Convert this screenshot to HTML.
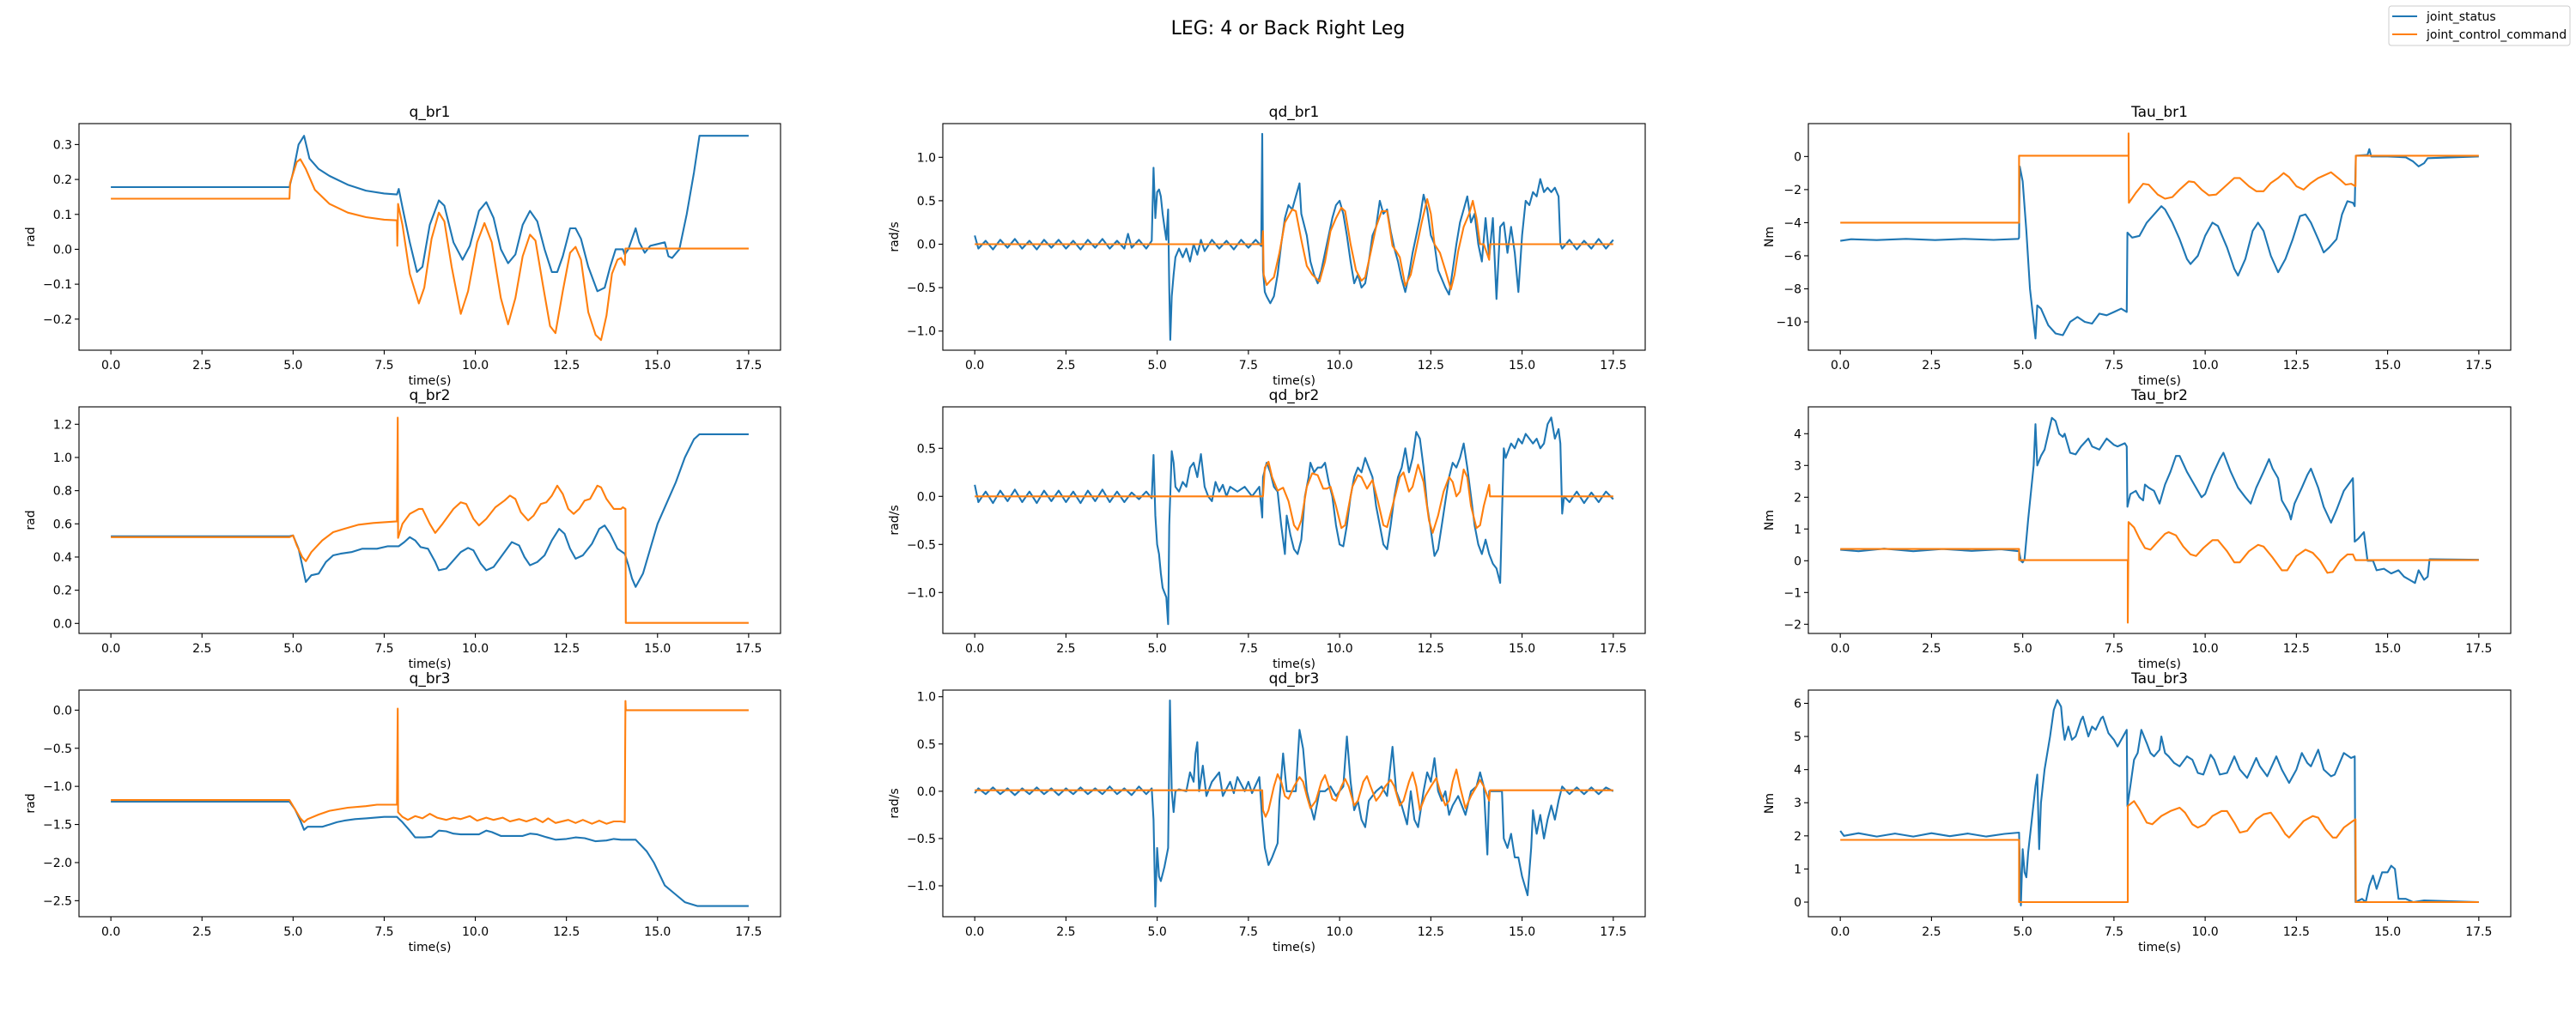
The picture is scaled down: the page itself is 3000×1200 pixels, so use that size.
<!DOCTYPE html>
<html><head><meta charset="utf-8">
<style>
html,body{margin:0;padding:0;background:#fff;}
svg{display:block;font-family:"DejaVu Sans","Liberation Sans",sans-serif;}
</style></head>
<body>
<svg id="fig" width="3000" height="1200" viewBox="0 0 3000 1200" xmlns="http://www.w3.org/2000/svg">
<rect x="0" y="0" width="3000" height="1200" fill="#fff"/>
<text x="1500" y="40" font-size="22" text-anchor="middle" fill="#000">LEG: 4 or Back Right Leg</text>
<g>
<rect x="2782" y="7" width="211" height="46" rx="3" fill="#fff" stroke="#ccc" stroke-width="1"/>
<line x1="2786" y1="19" x2="2815" y2="19" stroke="#1f77b4" stroke-width="2"/>
<text x="2826" y="24" font-size="14" fill="#000">joint_status</text>
<line x1="2786" y1="40" x2="2815" y2="40" stroke="#ff7f0e" stroke-width="2"/>
<text x="2826" y="45" font-size="14" fill="#000">joint_control_command</text>
</g>
</svg>
<script>
// x-axis ticks shared
const xTicks = [0,2.5,5,7.5,10,12.5,15,17.5];
const xTickLabels = ["0.0","2.5","5.0","7.5","10.0","12.5","15.0","17.5"];

// ---- q_br1 ----
const q_br1_status = [[0,0.178],[4.9,0.178],[5.0,0.22],[5.15,0.30],[5.3,0.325],[5.45,0.26],[5.7,0.23],[6.0,0.21],[6.5,0.185],[7.0,0.168],[7.5,0.16],[7.85,0.157],[7.9,0.173],[8.0,0.12],[8.2,0.02],[8.4,-0.065],[8.55,-0.05],[8.75,0.07],[9.0,0.14],[9.15,0.125],[9.4,0.02],[9.65,-0.03],[9.85,0.01],[10.1,0.11],[10.3,0.135],[10.5,0.09],[10.7,0.0],[10.9,-0.04],[11.1,-0.015],[11.3,0.07],[11.5,0.11],[11.7,0.08],[11.9,0.0],[12.1,-0.065],[12.25,-0.065],[12.4,-0.02],[12.6,0.06],[12.75,0.06],[12.9,0.03],[13.1,-0.05],[13.35,-0.12],[13.55,-0.11],[13.7,-0.05],[13.85,0.0],[14.05,0.0],[14.1,-0.015],[14.2,0.0],[14.4,0.06],[14.5,0.02],[14.65,-0.01],[14.8,0.01],[15.2,0.02],[15.3,-0.02],[15.4,-0.025],[15.6,0.0],[15.8,0.1],[16.0,0.22],[16.15,0.325],[17.5,0.325]];
const q_br1_command = [[0,0.145],[4.9,0.145],[4.92,0.19],[5.1,0.25],[5.2,0.258],[5.35,0.23],[5.6,0.17],[6.0,0.13],[6.5,0.105],[7.0,0.092],[7.5,0.085],[7.85,0.083],[7.86,0.01],[7.88,0.13],[8.0,0.07],[8.2,-0.07],[8.45,-0.155],[8.6,-0.11],[8.8,0.03],[9.0,0.105],[9.15,0.08],[9.35,-0.05],[9.6,-0.185],[9.8,-0.12],[10.05,0.02],[10.25,0.075],[10.45,0.02],[10.7,-0.14],[10.9,-0.215],[11.1,-0.14],[11.3,-0.02],[11.5,0.042],[11.65,0.025],[11.85,-0.1],[12.05,-0.22],[12.2,-0.24],[12.4,-0.12],[12.6,-0.01],[12.75,0.007],[12.9,-0.03],[13.1,-0.18],[13.3,-0.245],[13.45,-0.26],[13.6,-0.19],[13.75,-0.07],[13.9,-0.03],[14.0,-0.025],[14.1,-0.045],[14.12,0.002],[17.5,0.002]];
const q_br1_yTicks = [-0.2,-0.1,0.0,0.1,0.2,0.3];
const q_br1_yTickLabels = ["\u22120.2","\u22120.1","0.0","0.1","0.2","0.3"];

// ---- qd_br1 ----
const qd_br1_status = [[0,0.1],[0.1,-0.05],[0.3,0.04],[0.5,-0.06],[0.7,0.05],[0.9,-0.04],[1.1,0.06],[1.3,-0.05],[1.5,0.04],[1.7,-0.06],[1.9,0.05],[2.1,-0.04],[2.3,0.05],[2.5,-0.05],[2.7,0.04],[2.9,-0.06],[3.1,0.05],[3.3,-0.04],[3.5,0.06],[3.7,-0.05],[3.9,0.04],[4.1,-0.05],[4.2,0.12],[4.3,-0.04],[4.5,0.05],[4.7,-0.05],[4.85,0.04],[4.9,0.88],[4.95,0.3],[5.0,0.6],[5.05,0.63],[5.1,0.55],[5.15,0.35],[5.2,0.2],[5.25,0.05],[5.3,0.4],[5.33,-0.5],[5.36,-1.1],[5.4,-0.6],[5.45,-0.35],[5.5,-0.15],[5.6,-0.05],[5.7,-0.15],[5.8,-0.05],[5.9,-0.2],[6.0,0.0],[6.1,-0.12],[6.2,0.05],[6.3,-0.08],[6.5,0.05],[6.7,-0.05],[6.9,0.04],[7.1,-0.06],[7.3,0.05],[7.5,-0.04],[7.7,0.05],[7.85,-0.02],[7.88,1.27],[7.9,-0.3],[7.95,-0.55],[8.0,-0.6],[8.1,-0.68],[8.2,-0.6],[8.3,-0.35],[8.4,0.0],[8.5,0.3],[8.6,0.45],[8.7,0.4],[8.8,0.55],[8.9,0.7],[8.95,0.35],[9.1,0.1],[9.2,-0.2],[9.3,-0.35],[9.4,-0.45],[9.5,-0.3],[9.6,-0.1],[9.7,0.1],[9.8,0.3],[9.9,0.45],[10.0,0.5],[10.1,0.35],[10.2,0.1],[10.3,-0.2],[10.4,-0.45],[10.5,-0.35],[10.6,-0.5],[10.7,-0.45],[10.8,-0.2],[10.9,0.1],[11.0,0.2],[11.1,0.5],[11.2,0.35],[11.3,0.4],[11.4,0.15],[11.5,-0.05],[11.6,-0.2],[11.7,-0.4],[11.8,-0.55],[11.9,-0.35],[12.0,-0.1],[12.1,0.1],[12.2,0.3],[12.3,0.57],[12.4,0.4],[12.5,0.1],[12.6,0.0],[12.7,-0.3],[12.8,-0.4],[12.9,-0.5],[13.0,-0.58],[13.1,-0.3],[13.2,0.0],[13.3,0.25],[13.4,0.4],[13.5,0.55],[13.6,0.25],[13.7,0.35],[13.8,0.0],[13.9,-0.2],[14.0,0.3],[14.1,-0.15],[14.2,0.3],[14.3,-0.63],[14.4,0.2],[14.5,0.25],[14.6,-0.1],[14.7,0.2],[14.8,-0.1],[14.9,-0.55],[15.0,0.1],[15.1,0.5],[15.2,0.45],[15.3,0.6],[15.4,0.55],[15.5,0.75],[15.6,0.6],[15.7,0.65],[15.8,0.6],[15.9,0.65],[16.0,0.55],[16.05,0.0],[16.1,-0.05],[16.3,0.05],[16.5,-0.06],[16.7,0.04],[16.9,-0.05],[17.1,0.06],[17.3,-0.05],[17.5,0.05]];
const qd_br1_command = [[0,0],[7.88,0],[7.9,0.15],[7.92,-0.35],[8.0,-0.47],[8.1,-0.42],[8.2,-0.38],[8.35,-0.1],[8.5,0.25],[8.7,0.4],[8.8,0.38],[8.95,0.05],[9.1,-0.25],[9.25,-0.35],[9.45,-0.43],[9.6,-0.2],[9.75,0.15],[9.9,0.3],[10.05,0.42],[10.15,0.38],[10.3,0.0],[10.45,-0.3],[10.6,-0.42],[10.7,-0.38],[10.85,-0.1],[11.0,0.2],[11.15,0.38],[11.3,0.38],[11.45,-0.02],[11.55,-0.08],[11.65,-0.15],[11.8,-0.48],[11.95,-0.35],[12.1,-0.05],[12.25,0.25],[12.4,0.52],[12.5,0.35],[12.6,0.0],[12.75,-0.1],[12.9,-0.3],[13.05,-0.52],[13.15,-0.35],[13.25,-0.08],[13.4,0.2],[13.55,0.35],[13.65,0.5],[13.75,0.3],[13.85,0.0],[13.95,0.0],[14.1,-0.18],[14.12,0],[17.5,0]];
const qd_br1_yTicks = [-1.0,-0.5,0.0,0.5,1.0];
const qd_br1_yTickLabels = ["\u22121.0","\u22120.5","0.0","0.5","1.0"];

// ---- Tau_br1 ----
const tau_br1_status = [[0,-5.1],[0.3,-5.0],[1.0,-5.05],[1.8,-4.98],[2.6,-5.05],[3.4,-4.98],[4.2,-5.04],[4.88,-4.98],[4.9,-4.9],[4.92,-0.6],[5.0,-1.5],[5.1,-4.5],[5.2,-8.0],[5.3,-10.0],[5.35,-11.0],[5.4,-9.0],[5.5,-9.2],[5.7,-10.2],[5.9,-10.7],[6.1,-10.8],[6.3,-10.0],[6.5,-9.7],[6.7,-10.0],[6.9,-10.1],[7.1,-9.5],[7.3,-9.6],[7.5,-9.4],[7.7,-9.2],[7.85,-9.4],[7.87,-4.6],[8.0,-4.9],[8.2,-4.8],[8.4,-4.0],[8.6,-3.5],[8.8,-3.0],[8.9,-3.2],[9.1,-4.0],[9.3,-5.0],[9.5,-6.2],[9.6,-6.5],[9.8,-6.0],[10.0,-4.8],[10.2,-4.0],[10.35,-4.2],[10.6,-5.5],[10.8,-6.8],[10.9,-7.2],[11.1,-6.2],[11.3,-4.5],[11.45,-4.0],[11.6,-4.5],[11.8,-6.0],[12.0,-7.0],[12.2,-6.2],[12.4,-5.0],[12.6,-3.6],[12.75,-3.5],[12.9,-4.0],[13.1,-5.0],[13.25,-5.8],[13.4,-5.5],[13.6,-5.0],[13.75,-3.5],[13.9,-2.7],[14.05,-2.8],[14.1,-3.0],[14.13,0.05],[14.45,0.1],[14.5,0.45],[14.55,0.0],[15.0,0.0],[15.5,-0.05],[15.7,-0.3],[15.85,-0.6],[16.0,-0.4],[16.1,-0.1],[17.5,0.0]];
const tau_br1_command = [[0,-4.0],[4.9,-4.0],[4.9,0.05],[7.9,0.05],[7.9,1.4],[7.91,-2.8],[8.1,-2.2],[8.3,-1.65],[8.45,-1.7],[8.7,-2.3],[8.9,-2.55],[9.1,-2.45],[9.3,-2.0],[9.55,-1.5],[9.7,-1.55],[9.9,-2.0],[10.1,-2.35],[10.3,-2.3],[10.5,-1.9],[10.8,-1.3],[10.95,-1.3],[11.2,-1.8],[11.4,-2.1],[11.6,-2.1],[11.8,-1.6],[12.0,-1.3],[12.15,-1.0],[12.3,-1.25],[12.5,-1.8],[12.7,-2.0],[12.9,-1.6],[13.1,-1.3],[13.2,-1.2],[13.45,-0.95],[13.7,-1.4],[13.85,-1.7],[14.0,-1.65],[14.12,-1.8],[14.13,0.05],[17.5,0.05]];
const tau_br1_yTicks = [-10,-8,-6,-4,-2,0];
const tau_br1_yTickLabels = ["\u221210","\u22128","\u22126","\u22124","\u22122","0"];

// ---- q_br2 ----
const q_br2_status = [[0,0.525],[4.9,0.525],[5.0,0.53],[5.15,0.45],[5.3,0.3],[5.35,0.25],[5.5,0.29],[5.7,0.3],[5.9,0.37],[6.1,0.41],[6.3,0.42],[6.6,0.43],[6.9,0.45],[7.3,0.45],[7.6,0.465],[7.9,0.465],[8.05,0.49],[8.2,0.52],[8.35,0.5],[8.5,0.46],[8.7,0.45],[8.9,0.37],[9.0,0.32],[9.2,0.33],[9.4,0.38],[9.6,0.43],[9.8,0.455],[9.95,0.44],[10.15,0.36],[10.3,0.32],[10.5,0.34],[10.8,0.43],[11.0,0.49],[11.2,0.47],[11.35,0.4],[11.5,0.35],[11.7,0.37],[11.9,0.41],[12.1,0.5],[12.3,0.57],[12.45,0.54],[12.6,0.45],[12.75,0.39],[12.95,0.41],[13.2,0.48],[13.4,0.57],[13.55,0.59],[13.7,0.54],[13.9,0.45],[14.1,0.42],[14.2,0.35],[14.3,0.27],[14.4,0.22],[14.6,0.3],[14.8,0.45],[15.0,0.6],[15.3,0.75],[15.5,0.85],[15.75,1.0],[16.0,1.11],[16.15,1.14],[17.5,1.14]];
const q_br2_command = [[0,0.52],[4.9,0.52],[5.0,0.53],[5.1,0.47],[5.25,0.4],[5.35,0.375],[5.5,0.43],[5.8,0.5],[6.1,0.55],[6.4,0.57],[6.8,0.595],[7.2,0.605],[7.5,0.61],[7.85,0.615],[7.87,1.24],[7.88,0.515],[8.0,0.6],[8.2,0.66],[8.45,0.69],[8.55,0.69],[8.75,0.6],[8.9,0.545],[9.1,0.6],[9.4,0.69],[9.6,0.73],[9.75,0.72],[9.95,0.63],[10.1,0.59],[10.3,0.63],[10.55,0.7],[10.8,0.74],[10.95,0.77],[11.1,0.75],[11.25,0.67],[11.45,0.62],[11.6,0.65],[11.8,0.72],[11.95,0.73],[12.1,0.77],[12.25,0.83],[12.4,0.78],[12.55,0.69],[12.7,0.66],[12.85,0.69],[13.0,0.74],[13.15,0.75],[13.35,0.83],[13.45,0.82],[13.6,0.75],[13.8,0.69],[14.0,0.69],[14.05,0.7],[14.12,0.69],[14.13,0.003],[17.5,0.003]];
const q_br2_yTicks = [0.0,0.2,0.4,0.6,0.8,1.0,1.2];
const q_br2_yTickLabels = ["0.0","0.2","0.4","0.6","0.8","1.0","1.2"];

// ---- qd_br2 ----
const qd_br2_status = [[0,0.12],[0.1,-0.06],[0.3,0.05],[0.5,-0.07],[0.7,0.06],[0.9,-0.05],[1.1,0.07],[1.3,-0.06],[1.5,0.05],[1.7,-0.07],[1.9,0.06],[2.1,-0.05],[2.3,0.06],[2.5,-0.06],[2.7,0.05],[2.9,-0.07],[3.1,0.06],[3.3,-0.05],[3.5,0.07],[3.7,-0.06],[3.9,0.05],[4.1,-0.06],[4.3,0.04],[4.5,-0.03],[4.7,0.05],[4.85,-0.02],[4.9,0.43],[4.95,-0.2],[5.0,-0.5],[5.05,-0.6],[5.1,-0.8],[5.15,-0.95],[5.2,-1.0],[5.25,-1.05],[5.3,-1.33],[5.33,-0.3],[5.4,0.47],[5.45,0.35],[5.5,0.1],[5.6,0.05],[5.7,0.15],[5.8,0.1],[5.9,0.3],[6.0,0.35],[6.1,0.2],[6.2,0.44],[6.3,0.1],[6.4,0.0],[6.5,-0.05],[6.6,0.15],[6.7,0.05],[6.8,0.12],[6.9,0.0],[7.0,0.1],[7.2,0.05],[7.4,0.1],[7.6,0.0],[7.8,0.1],[7.88,-0.22],[7.9,0.2],[8.0,0.35],[8.1,0.25],[8.2,0.1],[8.3,0.05],[8.4,-0.3],[8.5,-0.6],[8.55,-0.2],[8.65,-0.4],[8.75,-0.55],[8.85,-0.6],[8.95,-0.45],[9.05,0.0],[9.15,0.2],[9.2,0.35],[9.3,0.25],[9.4,0.3],[9.5,0.3],[9.6,0.35],[9.7,0.15],[9.8,0.0],[9.9,-0.3],[10.0,-0.5],[10.1,-0.52],[10.2,-0.3],[10.3,0.0],[10.4,0.2],[10.5,0.3],[10.6,0.25],[10.7,0.4],[10.8,0.3],[10.9,0.2],[11.0,-0.1],[11.1,-0.3],[11.2,-0.5],[11.3,-0.55],[11.4,-0.3],[11.5,0.0],[11.6,0.2],[11.7,0.3],[11.8,0.5],[11.9,0.25],[12.0,0.4],[12.1,0.67],[12.2,0.6],[12.3,0.3],[12.4,-0.1],[12.5,-0.35],[12.6,-0.62],[12.7,-0.55],[12.8,-0.3],[12.9,-0.05],[13.0,0.2],[13.1,0.35],[13.2,0.3],[13.3,0.4],[13.4,0.55],[13.5,0.3],[13.6,0.0],[13.7,-0.3],[13.8,-0.5],[13.9,-0.6],[14.0,-0.45],[14.1,-0.6],[14.2,-0.7],[14.3,-0.75],[14.4,-0.9],[14.5,0.5],[14.55,0.4],[14.7,0.55],[14.8,0.5],[14.9,0.6],[15.0,0.55],[15.1,0.65],[15.2,0.6],[15.3,0.55],[15.4,0.6],[15.5,0.5],[15.6,0.55],[15.7,0.75],[15.8,0.82],[15.9,0.6],[16.0,0.7],[16.05,0.55],[16.1,-0.18],[16.15,0.0],[16.3,-0.06],[16.5,0.05],[16.7,-0.07],[16.9,0.04],[17.1,-0.06],[17.3,0.05],[17.5,-0.03]];
const qd_br2_command = [[0,0],[7.9,0],[7.95,0.3],[8.05,0.36],[8.15,0.2],[8.3,0.06],[8.45,0.09],[8.6,-0.05],[8.75,-0.3],[8.85,-0.35],[8.95,-0.25],[9.1,0.1],[9.25,0.24],[9.4,0.22],[9.55,0.08],[9.65,0.08],[9.75,0.1],[9.9,-0.1],[10.05,-0.33],[10.15,-0.3],[10.35,0.1],[10.5,0.22],[10.6,0.2],[10.75,0.08],[10.9,0.17],[11.05,-0.05],[11.2,-0.3],[11.3,-0.32],[11.45,-0.1],[11.65,0.2],[11.75,0.25],[11.9,0.05],[12.0,0.1],[12.15,0.33],[12.3,0.15],[12.45,-0.25],[12.55,-0.38],[12.7,-0.2],[12.85,0.05],[13.0,0.2],[13.1,0.15],[13.2,0.0],[13.3,0.05],[13.4,0.28],[13.5,0.2],[13.6,-0.1],[13.75,-0.33],[13.85,-0.3],[13.95,-0.1],[14.1,0.12],[14.12,0],[17.5,0]];
const qd_br2_yTicks = [-1.0,-0.5,0.0,0.5];
const qd_br2_yTickLabels = ["\u22121.0","\u22120.5","0.0","0.5"];

// ---- Tau_br2 ----
const tau_br2_status = [[0,0.35],[0.5,0.3],[1.2,0.38],[2.0,0.3],[2.8,0.37],[3.6,0.31],[4.4,0.36],[4.9,0.3],[4.95,0.0],[5.0,-0.05],[5.05,0.05],[5.15,1.3],[5.3,3.0],[5.35,4.3],[5.4,3.0],[5.5,3.3],[5.6,3.5],[5.8,4.5],[5.9,4.4],[6.0,4.0],[6.1,3.9],[6.15,4.0],[6.3,3.4],[6.45,3.35],[6.6,3.6],[6.8,3.85],[6.9,3.6],[7.1,3.5],[7.3,3.85],[7.5,3.65],[7.6,3.6],[7.8,3.7],[7.85,3.6],[7.87,1.7],[7.95,2.1],[8.1,2.2],[8.2,2.0],[8.3,1.9],[8.35,2.4],[8.45,2.3],[8.6,2.2],[8.75,1.8],[8.9,2.4],[9.05,2.8],[9.2,3.3],[9.3,3.3],[9.5,2.8],[9.7,2.4],[9.9,2.0],[10.0,2.1],[10.2,2.7],[10.4,3.2],[10.5,3.4],[10.7,2.8],[10.9,2.3],[11.1,2.0],[11.25,1.8],[11.4,2.3],[11.6,2.8],[11.75,3.2],[11.85,2.9],[12.0,2.6],[12.1,1.9],[12.3,1.5],[12.35,1.3],[12.45,1.8],[12.65,2.3],[12.8,2.7],[12.9,2.9],[13.1,2.3],[13.25,1.7],[13.45,1.2],[13.6,1.6],[13.8,2.2],[14.05,2.6],[14.1,0.6],[14.2,0.7],[14.35,0.9],[14.45,0.0],[14.6,0.0],[14.7,-0.3],[14.9,-0.25],[15.1,-0.4],[15.3,-0.3],[15.45,-0.5],[15.6,-0.6],[15.75,-0.7],[15.85,-0.3],[16.0,-0.6],[16.1,-0.5],[16.15,0.05],[17.5,0.03]];
const tau_br2_command = [[0,0.37],[4.9,0.37],[4.9,0.02],[7.88,0.02],[7.88,-1.95],[7.9,1.22],[8.05,1.05],[8.2,0.7],[8.35,0.4],[8.5,0.35],[8.7,0.6],[8.9,0.85],[9.0,0.9],[9.2,0.8],[9.4,0.45],[9.6,0.2],[9.75,0.15],[9.95,0.4],[10.2,0.65],[10.35,0.65],[10.6,0.3],[10.8,-0.05],[10.95,-0.05],[11.2,0.3],[11.45,0.5],[11.6,0.45],[11.85,0.1],[12.1,-0.3],[12.25,-0.3],[12.5,0.15],[12.75,0.35],[12.95,0.25],[13.15,0.0],[13.35,-0.38],[13.5,-0.35],[13.7,0.0],[13.9,0.2],[14.05,0.2],[14.12,0.02],[17.5,0.02]];
const tau_br2_yTicks = [-2,-1,0,1,2,3,4];
const tau_br2_yTickLabels = ["\u22122","\u22121","0","1","2","3","4"];

// ---- q_br3 ----
const q_br3_status = [[0,-1.2],[4.9,-1.2],[5.05,-1.3],[5.2,-1.45],[5.3,-1.57],[5.4,-1.53],[5.8,-1.53],[6.0,-1.5],[6.2,-1.47],[6.4,-1.45],[6.7,-1.43],[7.0,-1.42],[7.5,-1.4],[7.85,-1.4],[8.0,-1.47],[8.2,-1.58],[8.35,-1.67],[8.6,-1.67],[8.8,-1.66],[9.0,-1.58],[9.2,-1.59],[9.4,-1.62],[9.6,-1.63],[10.1,-1.63],[10.3,-1.58],[10.45,-1.6],[10.7,-1.65],[11.3,-1.65],[11.5,-1.62],[11.7,-1.63],[11.9,-1.66],[12.2,-1.7],[12.5,-1.69],[12.75,-1.67],[13.0,-1.68],[13.3,-1.72],[13.6,-1.71],[13.8,-1.69],[14.0,-1.7],[14.4,-1.7],[14.7,-1.85],[14.9,-2.0],[15.05,-2.15],[15.2,-2.3],[15.45,-2.4],[15.75,-2.52],[16.1,-2.57],[17.5,-2.57]];
const q_br3_command = [[0,-1.18],[4.9,-1.18],[5.05,-1.3],[5.2,-1.42],[5.3,-1.47],[5.4,-1.43],[5.7,-1.37],[6.0,-1.32],[6.5,-1.28],[7.0,-1.26],[7.3,-1.24],[7.85,-1.24],[7.87,0.02],[7.88,-1.34],[8.0,-1.4],[8.15,-1.44],[8.35,-1.39],[8.55,-1.42],[8.75,-1.36],[8.95,-1.41],[9.2,-1.44],[9.4,-1.41],[9.6,-1.43],[9.85,-1.39],[10.05,-1.45],[10.3,-1.41],[10.5,-1.44],[10.75,-1.41],[10.95,-1.46],[11.2,-1.43],[11.4,-1.46],[11.65,-1.42],[11.85,-1.47],[12.0,-1.42],[12.2,-1.48],[12.55,-1.44],[12.75,-1.48],[12.95,-1.44],[13.2,-1.49],[13.4,-1.45],[13.6,-1.49],[13.8,-1.46],[14.0,-1.46],[14.1,-1.47],[14.12,0.12],[14.13,0.0],[17.5,0.0]];
const q_br3_yTicks = [-2.5,-2.0,-1.5,-1.0,-0.5,0.0];
const q_br3_yTickLabels = ["\u22122.5","\u22122.0","\u22121.5","\u22121.0","\u22120.5","0.0"];

// ---- qd_br3 ----
const qd_br3_status = [[0,-0.02],[0.1,0.03],[0.3,-0.03],[0.5,0.04],[0.7,-0.03],[0.9,0.03],[1.1,-0.04],[1.3,0.03],[1.5,-0.03],[1.7,0.04],[1.9,-0.03],[2.1,0.03],[2.3,-0.04],[2.5,0.03],[2.7,-0.03],[2.9,0.04],[3.1,-0.03],[3.3,0.03],[3.5,-0.03],[3.7,0.05],[3.9,-0.03],[4.1,0.03],[4.3,-0.04],[4.5,0.05],[4.7,-0.03],[4.85,0.03],[4.9,-0.3],[4.95,-1.22],[5.0,-0.6],[5.05,-0.9],[5.1,-0.95],[5.2,-0.8],[5.3,-0.6],[5.35,0.96],[5.4,0.0],[5.45,-0.22],[5.5,0.0],[5.6,0.02],[5.8,0.0],[5.9,0.2],[6.0,0.1],[6.05,0.4],[6.1,0.52],[6.15,0.0],[6.25,0.27],[6.35,-0.05],[6.5,0.1],[6.7,0.2],[6.8,-0.05],[7.0,0.1],[7.1,-0.02],[7.2,0.15],[7.4,0.0],[7.5,0.1],[7.6,-0.02],[7.8,0.15],[7.88,-0.3],[7.95,-0.6],[8.05,-0.78],[8.15,-0.7],[8.3,-0.55],[8.35,-0.1],[8.45,0.4],[8.55,0.0],[8.8,0.0],[8.9,0.65],[9.0,0.45],[9.1,0.0],[9.2,-0.15],[9.3,-0.3],[9.45,0.0],[9.6,0.0],[9.75,0.05],[9.9,-0.05],[10.0,0.0],[10.1,0.05],[10.2,0.58],[10.3,0.1],[10.4,-0.2],[10.5,-0.1],[10.6,-0.3],[10.7,-0.38],[10.8,-0.1],[11.0,0.0],[11.15,0.05],[11.3,-0.05],[11.45,0.47],[11.55,0.0],[11.7,-0.15],[11.85,-0.35],[11.95,0.0],[12.05,-0.3],[12.15,-0.38],[12.3,0.0],[12.4,0.2],[12.5,0.1],[12.6,0.35],[12.7,0.0],[12.8,-0.1],[12.9,0.0],[13.0,-0.25],[13.1,-0.15],[13.25,-0.05],[13.45,-0.25],[13.6,0.0],[13.75,0.05],[13.85,0.2],[13.95,0.05],[14.05,-0.67],[14.1,0.0],[14.45,0.0],[14.5,-0.5],[14.6,-0.6],[14.7,-0.45],[14.8,-0.7],[14.9,-0.7],[15.0,-0.9],[15.15,-1.1],[15.25,-0.6],[15.3,-0.2],[15.4,-0.45],[15.5,-0.25],[15.6,-0.5],[15.7,-0.3],[15.8,-0.15],[15.9,-0.3],[16.0,-0.1],[16.1,0.05],[16.3,-0.03],[16.5,0.04],[16.7,-0.03],[16.9,0.04],[17.1,-0.03],[17.3,0.04],[17.5,0.0]];
const qd_br3_command = [[0,0.01],[7.88,0.01],[7.9,-0.2],[7.97,-0.27],[8.05,-0.2],[8.2,0.05],[8.3,0.18],[8.4,0.1],[8.5,-0.05],[8.6,-0.08],[8.75,0.05],[8.9,0.15],[9.0,0.1],[9.1,-0.05],[9.2,-0.18],[9.35,-0.1],[9.5,0.1],[9.6,0.17],[9.7,0.05],[9.8,-0.08],[9.9,-0.1],[10.05,0.05],[10.15,0.13],[10.25,0.05],[10.4,-0.15],[10.5,-0.1],[10.65,0.1],[10.75,0.16],[10.85,0.05],[11.0,-0.1],[11.1,-0.05],[11.25,0.05],[11.4,0.12],[11.5,0.05],[11.65,-0.15],[11.75,-0.1],[11.9,0.1],[12.0,0.2],[12.1,0.05],[12.2,-0.2],[12.35,-0.05],[12.5,0.05],[12.65,0.14],[12.75,0.0],[12.9,-0.15],[13.0,-0.1],[13.1,0.1],[13.2,0.23],[13.3,0.05],[13.45,-0.18],[13.6,-0.05],[13.75,0.05],[13.85,0.12],[13.95,0.05],[14.1,-0.1],[14.12,0.01],[17.5,0.01]];
const qd_br3_yTicks = [-1.0,-0.5,0.0,0.5,1.0];
const qd_br3_yTickLabels = ["\u22121.0","\u22120.5","0.0","0.5","1.0"];

// ---- Tau_br3 ----
const tau_br3_status = [[0,2.15],[0.1,2.0],[0.5,2.08],[1.0,1.98],[1.5,2.07],[2.0,1.98],[2.5,2.08],[3.0,1.99],[3.5,2.07],[4.0,1.98],[4.5,2.06],[4.9,2.1],[4.95,-0.1],[5.0,1.6],[5.05,0.9],[5.1,0.75],[5.15,1.5],[5.25,2.5],[5.35,3.5],[5.4,3.85],[5.45,1.6],[5.5,3.0],[5.6,4.0],[5.75,5.0],[5.85,5.8],[5.95,6.1],[6.05,5.9],[6.1,5.3],[6.15,4.9],[6.25,5.3],[6.35,4.9],[6.45,5.0],[6.6,5.5],[6.65,5.6],[6.8,5.0],[6.9,5.3],[7.0,5.2],[7.15,5.55],[7.2,5.6],[7.35,5.1],[7.5,4.9],[7.6,4.7],[7.8,5.1],[7.85,5.2],[7.87,2.9],[7.95,3.5],[8.05,4.3],[8.15,4.5],[8.25,5.2],[8.4,4.8],[8.5,4.5],[8.6,4.4],[8.75,4.6],[8.8,5.0],[8.9,4.5],[9.0,4.4],[9.15,4.2],[9.3,4.1],[9.5,4.4],[9.65,4.3],[9.8,3.9],[9.95,3.85],[10.15,4.45],[10.25,4.3],[10.4,3.85],[10.6,3.9],[10.8,4.4],[10.95,4.0],[11.15,3.75],[11.4,4.35],[11.5,4.1],[11.7,3.8],[11.95,4.4],[12.1,4.0],[12.3,3.6],[12.5,4.0],[12.65,4.5],[12.8,4.2],[12.9,4.1],[13.1,4.6],[13.25,4.0],[13.45,3.8],[13.55,3.85],[13.8,4.5],[14.0,4.35],[14.1,4.4],[14.12,0.0],[14.3,0.1],[14.4,0.0],[14.5,0.5],[14.6,0.8],[14.7,0.4],[14.85,0.9],[15.0,0.9],[15.1,1.1],[15.2,1.0],[15.3,0.1],[15.5,0.1],[15.7,0.0],[16.0,0.05],[17.5,0.0]];
const tau_br3_command = [[0,1.88],[4.9,1.88],[4.9,0.0],[7.88,0.0],[7.88,2.9],[8.05,3.05],[8.2,2.8],[8.4,2.4],[8.55,2.35],[8.8,2.6],[9.05,2.75],[9.3,2.85],[9.45,2.7],[9.65,2.35],[9.8,2.25],[10.0,2.35],[10.2,2.6],[10.45,2.75],[10.6,2.75],[10.8,2.4],[10.95,2.1],[11.15,2.15],[11.4,2.5],[11.6,2.65],[11.8,2.7],[12.0,2.4],[12.2,2.05],[12.3,1.95],[12.5,2.2],[12.7,2.45],[12.95,2.6],[13.1,2.55],[13.3,2.2],[13.5,1.95],[13.6,1.95],[13.8,2.25],[14.05,2.45],[14.12,2.5],[14.13,0.0],[17.5,0.0]];
const tau_br3_yTicks = [0,1,2,3,4,5,6];
const tau_br3_yTickLabels = ["0","1","2","3","4","5","6"];

// layout (not data)
const colX = [[92,909],[1098,1916],[2106,2924]];
const rowY = [[144,408],[474,738],[804,1068]];
const ylabelX = [36,1042,2061];
const XMIN=-0.875, XMAX=18.375;

const panels = [
 {name:"q_br1",r:0,c:0,yl:"rad",ymin:-0.289,ymax:0.36,s:q_br1_status,o:q_br1_command,yt:q_br1_yTicks,ytl:q_br1_yTickLabels},
 {name:"qd_br1",r:0,c:1,yl:"rad/s",ymin:-1.22,ymax:1.388,s:qd_br1_status,o:qd_br1_command,yt:qd_br1_yTicks,ytl:qd_br1_yTickLabels},
 {name:"Tau_br1",r:0,c:2,yl:"Nm",ymin:-11.71,ymax:1.99,s:tau_br1_status,o:tau_br1_command,yt:tau_br1_yTicks,ytl:tau_br1_yTickLabels},
 {name:"q_br2",r:1,c:0,yl:"rad",ymin:-0.0605,ymax:1.305,s:q_br2_status,o:q_br2_command,yt:q_br2_yTicks,ytl:q_br2_yTickLabels},
 {name:"qd_br2",r:1,c:1,yl:"rad/s",ymin:-1.426,ymax:0.931,s:qd_br2_status,o:qd_br2_command,yt:qd_br2_yTicks,ytl:qd_br2_yTickLabels},
 {name:"Tau_br2",r:1,c:2,yl:"Nm",ymin:-2.289,ymax:4.846,s:tau_br2_status,o:tau_br2_command,yt:tau_br2_yTicks,ytl:tau_br2_yTickLabels},
 {name:"q_br3",r:2,c:0,yl:"rad",ymin:-2.71,ymax:0.263,s:q_br3_status,o:q_br3_command,yt:q_br3_yTicks,ytl:q_br3_yTickLabels},
 {name:"qd_br3",r:2,c:1,yl:"rad/s",ymin:-1.327,ymax:1.07,s:qd_br3_status,o:qd_br3_command,yt:qd_br3_yTicks,ytl:qd_br3_yTickLabels},
 {name:"Tau_br3",r:2,c:2,yl:"Nm",ymin:-0.44,ymax:6.40,s:tau_br3_status,o:tau_br3_command,yt:tau_br3_yTicks,ytl:tau_br3_yTickLabels}
];

const NS="http://www.w3.org/2000/svg";
const svg=document.getElementById('fig');
function mk(tag,attrs,parent){const e=document.createElementNS(NS,tag);for(const k in attrs)e.setAttribute(k,attrs[k]);parent.appendChild(e);return e;}

panels.forEach(p=>{
  const [x0,x1]=colX[p.c],[y0,y1]=rowY[p.r];
  const sx=v=>x0+(v-XMIN)/(XMAX-XMIN)*(x1-x0);
  const sy=v=>y1-(v-p.ymin)/(p.ymax-p.ymin)*(y1-y0);
  const key=p.name.toLowerCase().replace('_','-');
  const g=mk('g',{},svg);
  
  
  const clipId='clip-'+key;
  const cp=mk('clipPath',{id:clipId},g);
  mk('rect',{x:x0,y:y0,width:x1-x0,height:y1-y0},cp);
  // title
  const t=mk('text',{x:(x0+x1)/2,y:y0-8,'font-size':17,'text-anchor':'middle',fill:'#000'},g);
  t.textContent=p.name;
  
  
  // x ticks
  xTicks.forEach((v,i)=>{
    const x=sx(v);
    const tk=mk('line',{x1:x,y1:y1,x2:x,y2:y1+5,stroke:'#000','stroke-width':1.1},g);
    
    
    const tl=mk('text',{x:x,y:y1+22,'font-size':14,'text-anchor':'middle',fill:'#000'},g);
    tl.textContent=xTickLabels[i];
    
    
  });
  // y ticks
  p.yt.forEach((v,i)=>{
    const y=sy(v);
    const tk=mk('line',{x1:x0-5,y1:y,x2:x0,y2:y,stroke:'#000','stroke-width':1.1},g);
    
    
    const tl=mk('text',{x:x0-8,y:y+5,'font-size':14,'text-anchor':'end',fill:'#000'},g);
    tl.textContent=p.ytl[i];
    
    
  });
  // x label
  const xl=mk('text',{x:(x0+x1)/2,y:y1+40,'font-size':14,'text-anchor':'middle',fill:'#000'},g);
  xl.textContent='time(s)';
  
  
  // y label
  const lx=ylabelX[p.c], ly=(y0+y1)/2;
  const yl=mk('text',{x:lx,y:ly,'font-size':14,'text-anchor':'middle',fill:'#000',transform:`rotate(-90 ${lx} ${ly})`,'dominant-baseline':'middle'},g);
  yl.textContent=p.yl;
  
  
  // series
  const ptsS=p.s.map(d=>sx(d[0]).toFixed(1)+','+sy(d[1]).toFixed(1)).join(' ');
  const ls=mk('polyline',{points:ptsS,fill:'none',stroke:'#1f77b4','stroke-width':2.1,'stroke-linejoin':'round','clip-path':`url(#${clipId})`},g);
  
  
  const ptsO=p.o.map(d=>sx(d[0]).toFixed(1)+','+sy(d[1]).toFixed(1)).join(' ');
  const lo=mk('polyline',{points:ptsO,fill:'none',stroke:'#ff7f0e','stroke-width':2.1,'stroke-linejoin':'round','clip-path':`url(#${clipId})`},g);
  
  
  // frame
  const fr=mk('rect',{x:x0,y:y0,width:x1-x0,height:y1-y0,fill:'none',stroke:'#000','stroke-width':1.1},g);
  
  
});
</script>
</body></html>
